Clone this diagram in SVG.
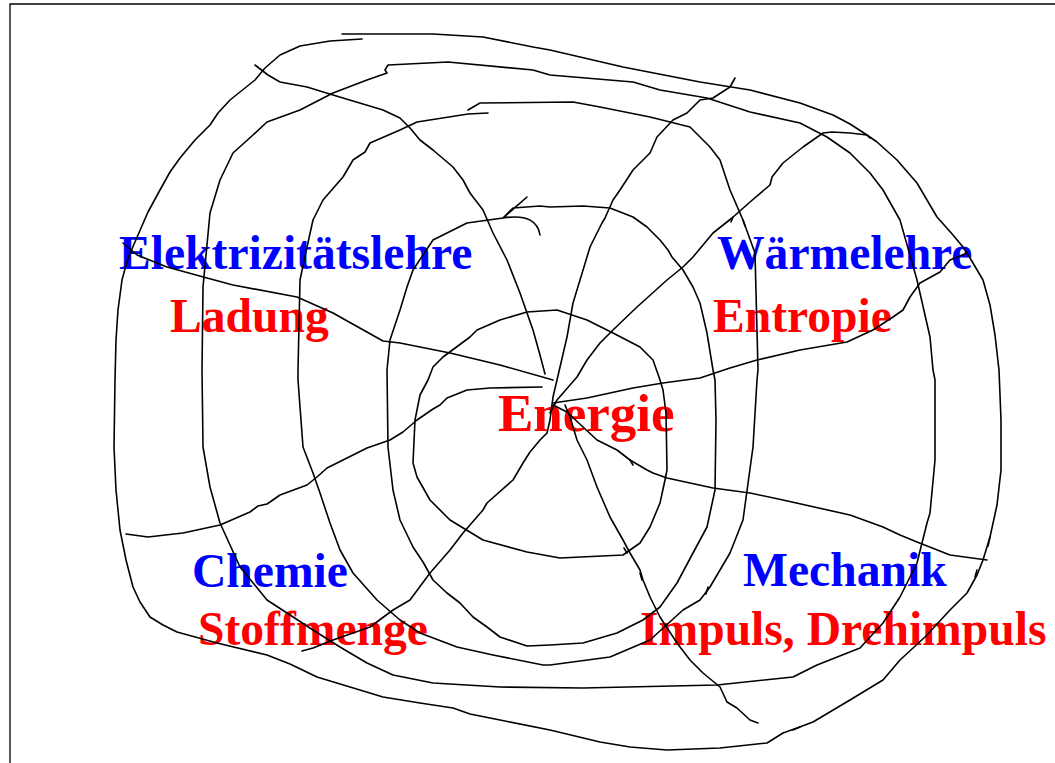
<svg xmlns="http://www.w3.org/2000/svg" width="1055" height="763" viewBox="0 0 1055 763">
<style>
.t{font-family:"Liberation Serif","Times New Roman",serif;font-weight:bold;font-size:47.6px}
.b{fill:#0000FF}
.r{fill:#FF0000}
.s{fill:none;stroke:#000;stroke-width:1.6;stroke-linejoin:round;stroke-linecap:round}
</style>
<rect width="1055" height="763" fill="#fff"/>
<path d="M10,763 L10,4 L1055,4" fill="none" stroke="#000" stroke-width="1.3"/>
<g id="labels">
<g id="elektrizitaet"><text class="t b" x="119" y="269">Elektrizitätslehre</text><text class="t r" x="170" y="332">Ladung</text></g>
<g id="waerme"><text class="t b" x="717" y="269">Wärmelehre</text><text class="t r" x="713" y="332">Entropie</text></g>
<g id="energie"><text class="t r" x="498" y="431" style="font-size:53px">Energie</text></g>
<g id="chemie"><text class="t b" x="192" y="587">Chemie</text><text class="t r" x="198" y="645">Stoffmenge</text></g>
<g id="mechanik"><text class="t b" x="743" y="586">Mechanik</text><text class="t r" x="640" y="645">Impuls, Drehimpuls</text></g>
</g>
<g id="web" class="s">
<path id="ringA" d="M362,39 L330,41 L300,46 L280,55 L265,68 L255,80 L240,92 L230,100 L218,113 L210,125 L195,140 L180,158 L170,172 L160,190 L148,212 L138,235 L128,258 L122,280 L118,310 L116,340 L115,380 L114,447 L116,490 L120,530 L126,560 L133,587 L140,602 L150,617 L163,625 L177,632 L217,643 L267,655 L290,664 L317,677 L350,687 L383,697 L420,703 L453,708 L470,714 L500,720 L550,730 L600,742 L630,747 L667,750 L720,748 L767,743 L783,733 L797,728 L813,722 L850,700 L883,680 L900,660 L925,637 L950,610 L967,593 L977,575 L983,560 L990,537 L997,505 L1001,470 L1001,420 L999,370 L995,335 L990,305 L983,280 L970,258 L963,247 L953,235 L937,217 L917,183 L897,160 L877,142 L867,135 L850,124 L833,115 L800,103 L750,90 L700,82 L623,67 L550,50 L533,47 L483,37 L433,34 L342,34"/>
<path id="ringB" d="M388,65 L385,70 L387,73 L367,80 L333,93 L300,110 L267,122 L253,135 L233,153 L220,180 L210,213 L203,287 L202,370 L203,447 L210,487 L220,523 L240,567 L267,600 L287,613 L313,630 L340,647 L367,663 L393,675 L433,683 L500,687 L583,688 L717,685 L793,677 L817,665 L860,648 L883,623 L900,597 L917,563 L927,523 L930,513 L935,460 L935,380 L933,370 L930,337 L917,280 L900,220 L883,190 L870,173 L850,153 L827,137 L800,123 L750,112 L707,98 L660,90 L633,82 L550,75 L533,70 L448,62 L388,65"/>
<path id="ringC" d="M488,113 L468,114 L417,122 L400,130 L370,143 L365,152 L353,160 L343,177 L323,200 L313,220 L307,247 L300,280 L298,370 L298,380 L303,447 L313,473 L320,493 L330,523 L340,550 L353,573 L377,600 L400,620 L420,633 L457,647 L493,655 L543,665 L550,665 L610,657 L650,640 L683,610 L700,600 L710,587 L730,553 L743,520 L753,447 L757,380 L758,370 L755,253 L743,220 L730,190 L720,160 L710,147 L690,127 L650,117 L600,107 L573,102 L480,103 L468,110"/>
<path id="ringD" d="M540,235 C538,222 528,214 503,218 L467,223 L433,240 L413,270 L407,287 L400,310 L390,340 L387,370 L388,447 L393,490 L400,520 L413,547 L423,562 L433,580 L447,593 L460,603 L473,617 L487,627 L500,637 L527,646 L550,645 L583,643 L617,633 L643,620 L660,607 L677,583 L693,553 L707,527 L715,490 L716,420 L715,380 L713,370 L707,333 L700,303 L693,287 L683,270 L672,257 L668,250 L660,240 L647,227 L633,217 L610,208 L583,206 L550,207 L540,206 L513,208 L503,218 L527,197"/>
<path id="ringE" d="M557,310 L527,312 L500,320 L477,330 L470,337 L443,357 L433,367 L428,380 L420,395 L415,420 L413,463 L417,477 L430,500 L450,520 L483,540 L527,552 L560,558 L623,555 L640,543 L650,527 L660,503 L665,480 L667,470 L666,413 L663,390 L660,380 L653,360 L640,347 L613,333 L587,320 L560,311 Z"/>
<path id="spoke1" d="M255,65 L268,75 L280,82 L307,87 L333,95 L383,110 L400,118 L410,128 L420,140 L433,150 L453,167 L463,180 L470,193 L483,210 L493,233 L507,260 L520,293 L533,330 L540,355 L545,374"/>
<path id="spoke2" d="M123,243 L137,255 L167,267 L207,278 L233,285 L297,297 L333,313 L383,341 L400,343 L450,353 L500,365 L553,380"/>
<path id="spoke3" d="M126,534 L148,537 L183,533 L220,525 L250,512 L258,506 L267,504 L270,502 L280,495 L307,485 L317,477 L327,468 L367,448 L390,440 L403,432 L417,420 L433,409 L440,405 L447,398 L467,390 L490,388 L542,387"/>
<path id="spoke4" d="M302,651 L313,648 L333,640 L353,633 L370,627 L393,610 L410,600 L430,573 L450,550 L463,533 L483,510 L487,503 L513,480 L523,463 L530,452 L540,440 L547,433 L550,420 L553,397 L557,380 L567,337 L573,303 L580,280 L587,257 L590,247 L602,223 L605,218 L613,200 L620,190 L633,170 L650,153 L657,137 L673,120 L687,113 L700,100 L713,98 L730,87 L735,78"/>
<path id="spoke6" d="M550,413 L557,400 L577,377 L587,360 L600,343 L613,330 L637,307 L667,280 L683,267 L693,257 L713,233 L732,218 L750,202 L770,185 L772,177 L783,163 L803,147 L823,133 L832,132 L850,133 L867,135 L870,138"/>
<path id="spoke7" d="M553,403 L587,398 L633,388 L663,383 L700,378 L730,368 L757,360 L800,350 L847,342 L873,330 L893,317 L903,310 L910,297 L920,283 L940,272 L950,260 L967,253"/>
<path id="spoke8" d="M553,405 L567,412 L583,427 L597,440 L617,450 L630,460 L647,470 L653,473 L667,478 L713,488 L750,493 L783,500 L850,515 L883,527 L900,535 L917,542 L950,555 L987,560"/>
<path id="spoke9" d="M565,405 L570,417 L577,440 L587,460 L597,487 L610,517 L623,540 L630,553 L640,570 L643,580 L650,597 L660,617 L677,643 L690,660 L703,673 L720,687 L727,702 L737,708 L750,720 L758,723"/>
<path id="ticks" d="M630,460 L633,465 M708,587 L706,594 M990,537 L988,546 M977,570 L975,577 M800,727 L793,730 M627,553 L624,548 M642,580 L640,573 M733,217 L731,222 M743,220 L745,226"/>
</g>
</svg>
